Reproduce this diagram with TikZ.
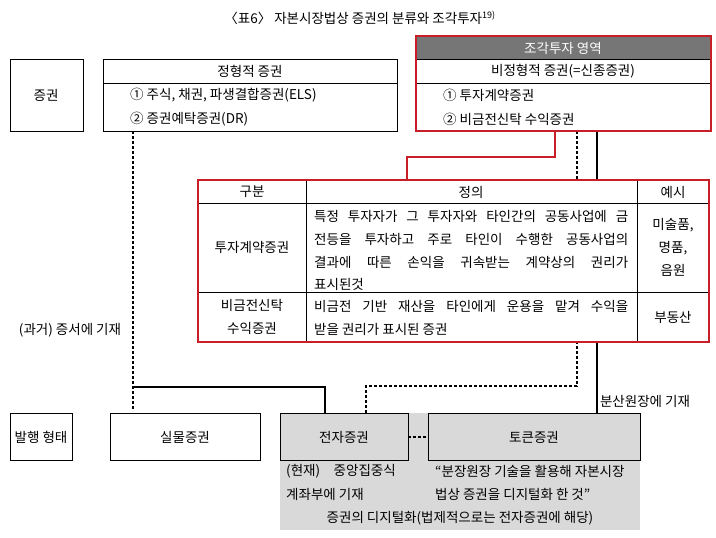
\documentclass[tikz,border=0pt]{standalone}
\usepackage{fontspec}
\setmainfont{Noto Sans CJK KR}
\definecolor{rd}{RGB}{200,30,40}
\definecolor{gbg}{RGB}{217,217,217}
\definecolor{ghd}{RGB}{118,118,118}
\begin{document}
\begin{tikzpicture}[x=1pt,y=-1pt,font=\fontsize{13.5}{23}\selectfont,
  bx/.style={draw,line width=0.8pt},
  dl/.style={line width=1.2pt,dash pattern=on 3pt off 2pt},
  sl/.style={line width=1.4pt},
  t/.style={inner sep=0pt,anchor=center}]
\useasboundingbox (0,0) rectangle (716,538);
% title
\node[t] (title) at (360,18) {〈표6〉 자본시장법상 증권의 분류와 조각투자\textsuperscript{\fontsize{9}{9}\selectfont 19)}};
% connectors (behind)
\draw[dl] (133,131) -- (133,410);
\draw[sl] (133,387) -- (325,387) -- (325,413);
\draw[dl] (577,131) -- (577,386) -- (366,386) -- (366,413);
\draw[sl] (597,131) -- (597,413);
\draw[rd,line width=1.6pt] (555,131) -- (555,157) -- (407,157) -- (407,180);
% top boxes
\draw[bx,fill=white] (10,59) rectangle (83,131);
\node[t] (jk) at (46,95) {증권};
\draw[bx,fill=white] (103,59) rectangle (397,131);
\draw[bx] (103,83) -- (397,83);
\node[t] (jh) at (250,71) {정형적 증권};
\node[t,anchor=west] (j1) at (130,95) {① 주식, 채권, 파생결합증권(ELS)};
\node[t,anchor=west] (j2) at (130,119) {② 증권예탁증권(DR)};
\fill[white] (416,36) rectangle (711,131);
\fill[ghd] (416,36) rectangle (711,59);
\node[t,white] (ch) at (563,48) {조각투자 영역};
\draw[bx] (416,59) -- (711,59);
\draw[bx] (416,83) -- (711,83);
\node[t] (bh) at (563,71) {비정형적 증권(=신종증권)};
\node[t,anchor=west] (b1) at (443,95) {① 투자계약증권};
\node[t,anchor=west] (b2) at (443,119) {② 비금전신탁 수익증권};
\draw[rd,line width=1.6pt] (416,36) rectangle (711,131);
% table
\fill[white] (198,180) rectangle (709,342);
\draw[bx] (306,180) -- (306,342);
\draw[bx] (637,180) -- (637,342);
\draw[bx] (198,203) -- (709,203);
\draw[bx] (198,292) -- (709,292);
\node[t] (hg) at (252,192) {구분};
\node[t] (hj) at (471,192) {정의};
\node[t] (he) at (673,192) {예시};
\node[t] (r1) at (252,247) {투자계약증권};
\node[t,anchor=west] (d1) at (314,216) {\makebox[314pt][s]{특정 투자자가 그 투자자와 타인간의 공동사업에 금}};
\node[t,anchor=west] (d2) at (314,239) {\makebox[314pt][s]{전등을 투자하고 주로 타인이 수행한 공동사업의}};
\node[t,anchor=west] (d3) at (314,262) {\makebox[314pt][s]{결과에 따른 손익을 귀속받는 계약상의 권리가}};
\node[t,anchor=west] (d4) at (314,284) {표시된것};
\node[t,align=center] (e1) at (673,247) {미술품,\\명품,\\음원};
\node[t,align=center] (r2) at (252,317) {비금전신탁\\수익증권};
\node[t,anchor=west] (d5) at (314,306) {\makebox[314pt][s]{비금전 기반 재산을 타인에게 운용을 맡겨 수익을}};
\node[t,anchor=west] (d6) at (314,329) {받을 권리가 표시된 증권};
\node[t] (e2) at (673,317) {부동산};
\draw[rd,line width=1.6pt] (198,180) rectangle (709,342);
% side labels
\node[t] (past) at (70,330) {(과거) 증서에 기재};
\node[t] (dist) at (645,401) {분산원장에 기재};
% bottom
\fill[gbg] (280,413) rectangle (640,530);
\draw[bx,fill=white] (10,413) rectangle (72,460);
\node[t] (bh2) at (41,437) {발행 형태};
\draw[bx,fill=white] (110,413) rectangle (260,460);
\node[t] (sm) at (185,437) {실물증권};
\draw[bx] (280,413) rectangle (408,460);
\node[t] (jj) at (344,437) {전자증권};
\draw[bx] (428,413) rectangle (640,460);
\node[t] (tk) at (534,437) {토큰증권};
\draw[dl] (408,437) -- (428,437);
\node[t,anchor=west] (n1) at (286,471) {(현재)\quad 중앙집중식};
\node[t,anchor=west] (n2) at (286,494) {계좌부에 기재};
\node[t,anchor=west] (n3) at (435,471) {“분장원장 기술을 활용해 자본시장};
\node[t,anchor=west] (n4) at (435,494) {법상 증권을 디지털화 한 것”};
\node[t] (n5) at (460,518) {증권의 디지털화(법제적으로는 전자증권에 해당)};
\end{tikzpicture}
\end{document}
